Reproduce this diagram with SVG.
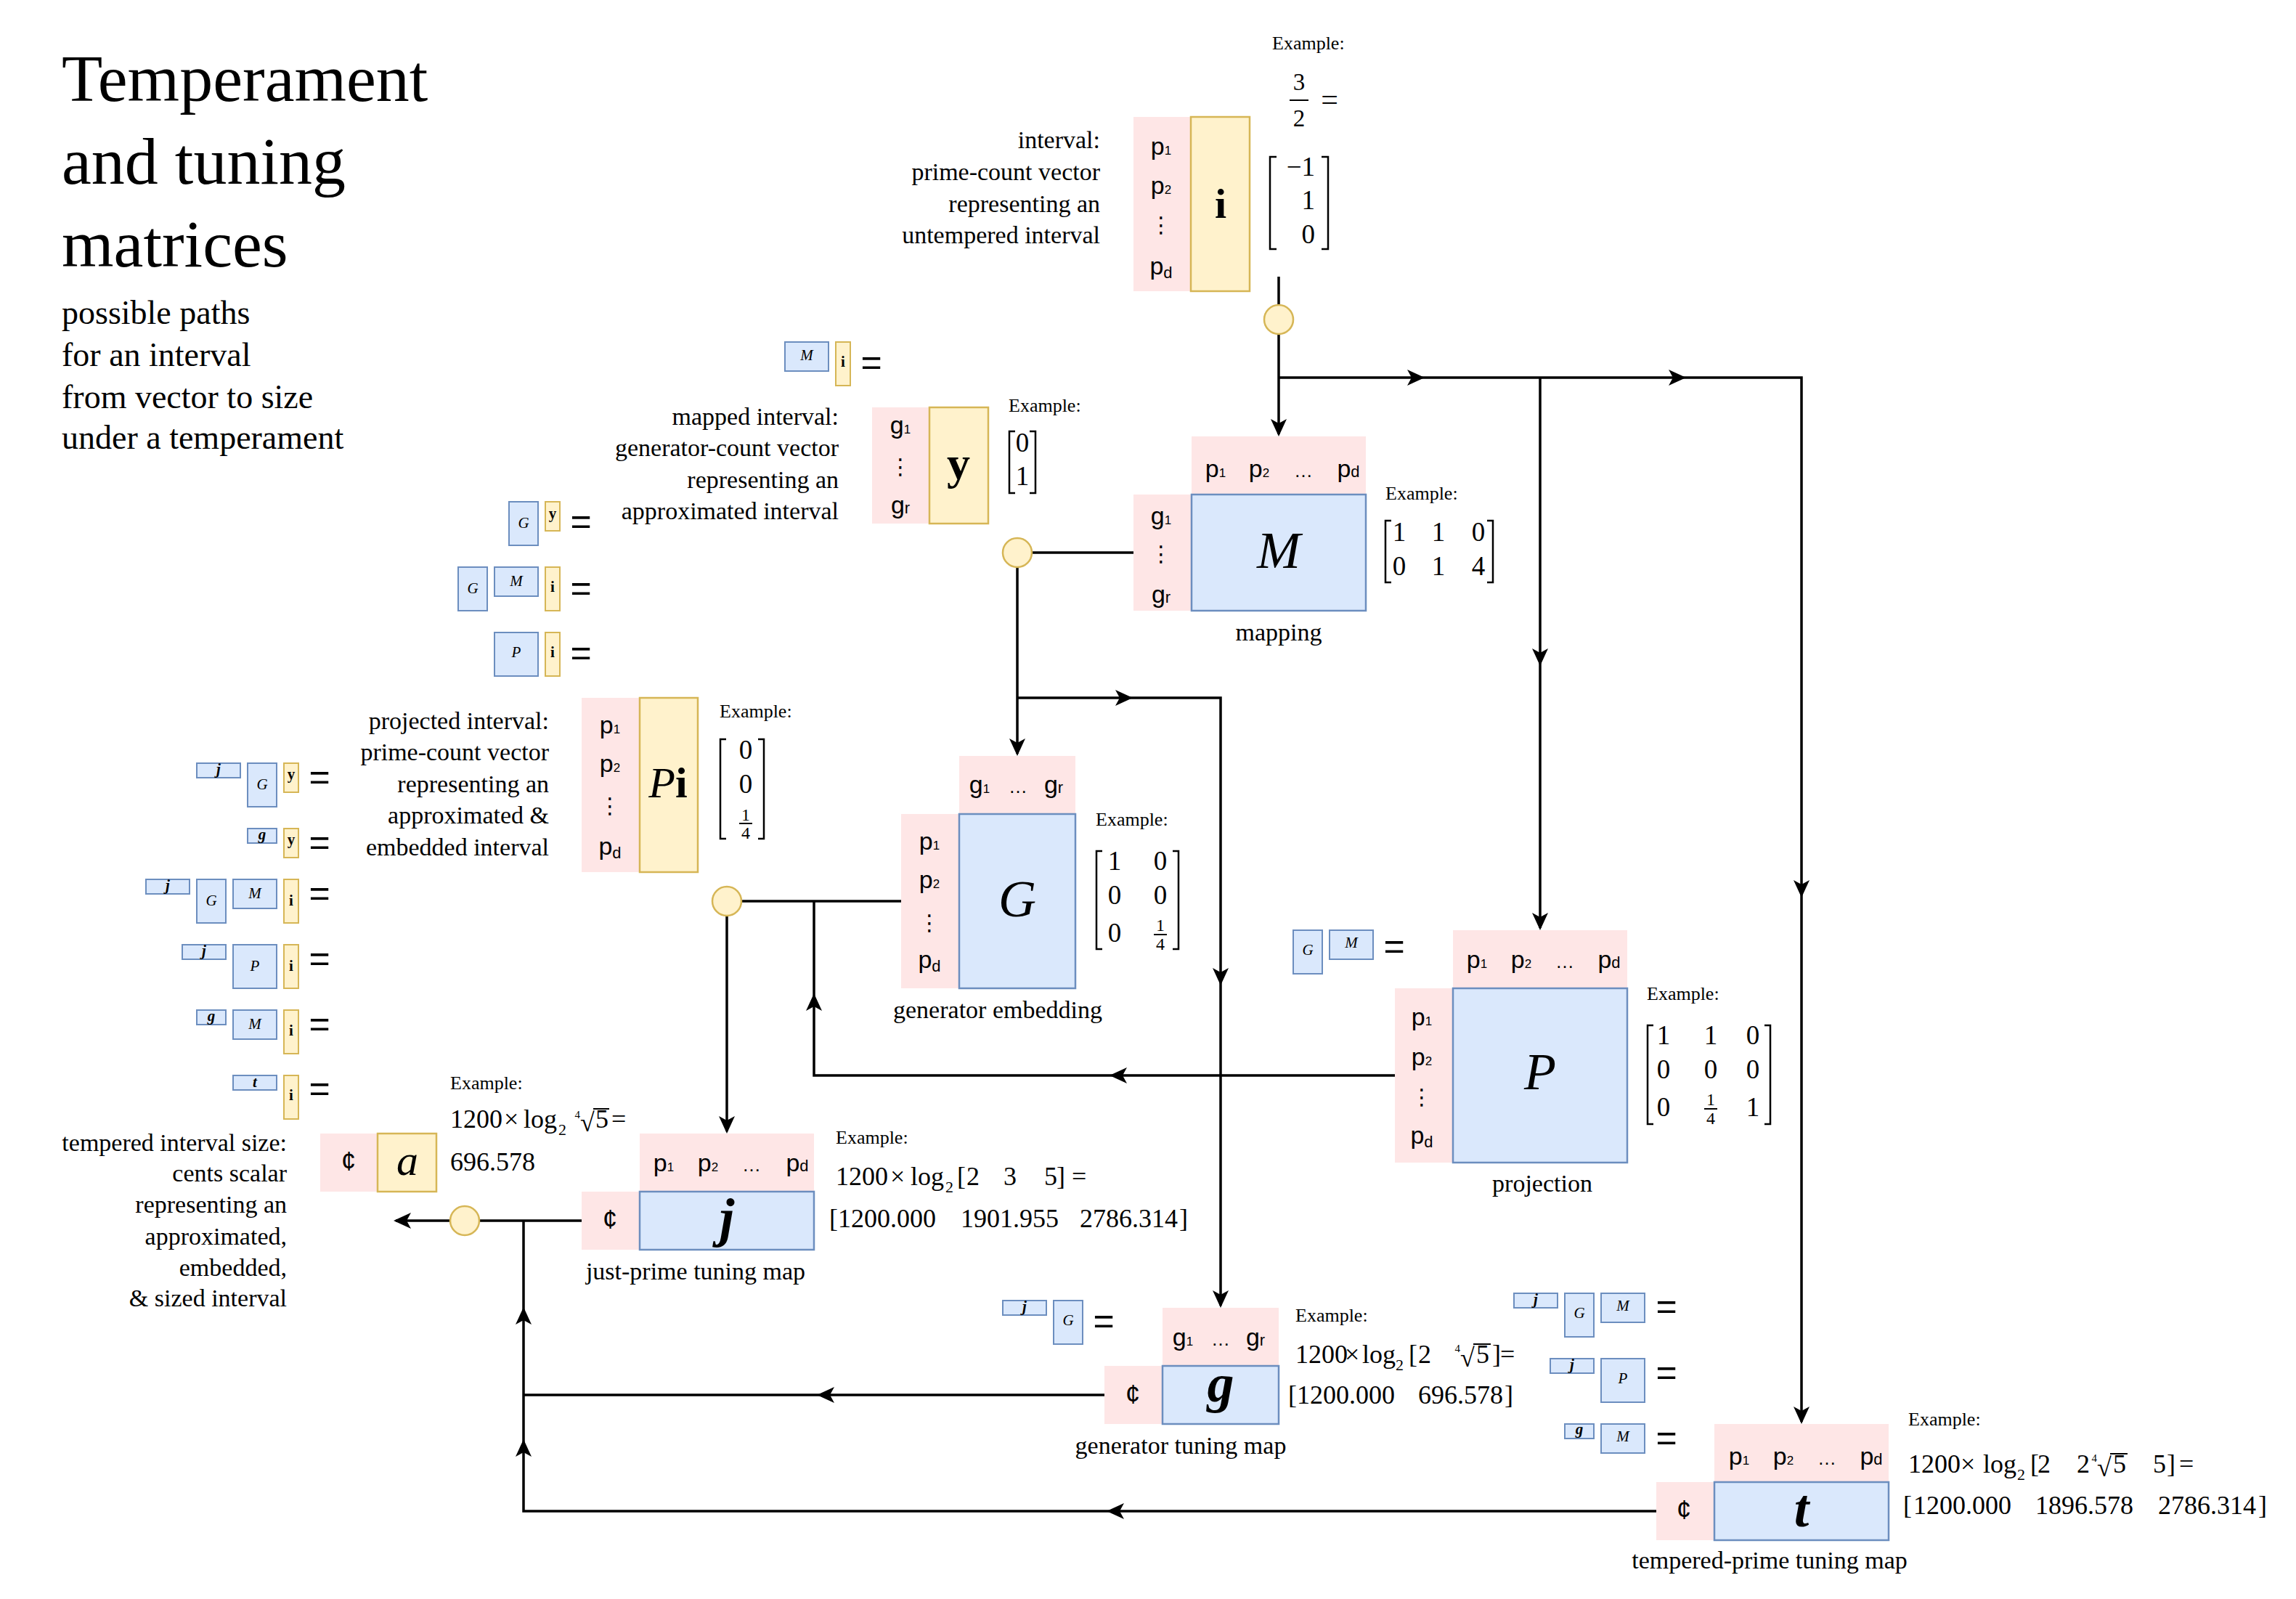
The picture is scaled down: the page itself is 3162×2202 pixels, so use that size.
<svg xmlns="http://www.w3.org/2000/svg" width="3162" height="2202" viewBox="0 0 3162 2202">
<defs>
<style>
text{font-family:"Liberation Serif",serif;fill:#000}
.title{font-size:92px}
.subt{font-size:46px}
.desc{font-size:34px;text-anchor:end}
.lbl{font-size:34px;text-anchor:middle}
.ex{font-size:26px}
.hd{font-family:"Liberation Sans",sans-serif;font-size:34px;text-anchor:middle}
.s{font-size:17px}
.sd{font-size:22px}
.vd{font-family:"DejaVu Sans",sans-serif;font-size:30px;text-anchor:middle}
.cent{font-family:"Liberation Sans",sans-serif;font-size:36px;text-anchor:middle}
.m{font-size:37px;text-anchor:middle}
.me{font-size:37px;text-anchor:end}
.fr{font-size:24px;text-anchor:middle}
.mx{font-size:36px}
.sub2{font-size:22px}
.idx{font-size:15px;text-anchor:end}
.big{font-size:72px;font-style:italic;text-anchor:middle}
.bigb{font-size:74px;font-style:italic;font-weight:bold;text-anchor:middle}
.bold{font-size:60px;font-weight:bold;text-anchor:middle}
.sm{font-size:21px;font-style:italic;text-anchor:middle}
.smb{font-size:21px;font-style:italic;font-weight:bold;text-anchor:middle}
.smi{font-size:21px;font-weight:bold;text-anchor:middle}
.eq{font-family:"Liberation Sans",sans-serif;font-size:50px;text-anchor:middle}
.pk{fill:#fee6e6}
.bl{fill:#dae8fc;stroke:#6c8ebf;stroke-width:2.5}
.yl{fill:#fff2cc;stroke:#d6b656;stroke-width:2.5}
.bs{fill:#dae8fc;stroke:#6c8ebf;stroke-width:2}
.ys{fill:#fff2cc;stroke:#d6b656;stroke-width:2}
.dot{fill:#fff2cc;stroke:#d6b656;stroke-width:2.5}
.ln{fill:none;stroke:#000;stroke-width:3.5}
.br{fill:none;stroke:#000;stroke-width:2.5}
.bar{stroke:#000;stroke-width:2}
</style>
<path id="ah" d="M0,0 L-24,-11 L-18,0 L-24,11 Z" fill="#000"/>
</defs>
<rect x="0" y="0" width="3162" height="2202" fill="#ffffff"/>

<g id="title">
<text class="title" x="85" y="139">Temperament</text>
<text class="title" x="85" y="253">and tuning</text>
<text class="title" x="85" y="367">matrices</text>
<text class="subt" x="85" y="446">possible paths</text>
<text class="subt" x="85" y="504">for an interval</text>
<text class="subt" x="85" y="562">from vector to size</text>
<text class="subt" x="85" y="618">under a temperament</text>
</g>

<g id="connectors">
<path class="ln" d="M1761,381 V420"/>
<path class="ln" d="M1761,460 V598"/>
<path class="ln" d="M1761,520 H2481 V1958"/>
<path class="ln" d="M2121,520 V1278"/>
<path class="ln" d="M1561,761 H1421"/>
<path class="ln" d="M1401,781 V1038"/>
<path class="ln" d="M1401,961 H1681 V1798"/>
<path class="ln" d="M1241,1241 H1021"/>
<path class="ln" d="M1001,1261 V1558"/>
<path class="ln" d="M1921,1481 H1121 V1241"/>
<path class="ln" d="M801,1681 H660"/>
<path class="ln" d="M620,1681 H545"/>
<path class="ln" d="M1521,1921 H721"/>
<path class="ln" d="M2281,2081 H721 V1681"/>
<use href="#ah" transform="translate(1761,601) rotate(90)"/>
<use href="#ah" transform="translate(1962,520)"/>
<use href="#ah" transform="translate(2322,520)"/>
<use href="#ah" transform="translate(2121,917) rotate(90)"/>
<use href="#ah" transform="translate(2121,1281) rotate(90)"/>
<use href="#ah" transform="translate(2481,1236) rotate(90)"/>
<use href="#ah" transform="translate(2481,1961) rotate(90)"/>
<use href="#ah" transform="translate(1401,1041) rotate(90)"/>
<use href="#ah" transform="translate(1560,961)"/>
<use href="#ah" transform="translate(1681,1357) rotate(90)"/>
<use href="#ah" transform="translate(1681,1801) rotate(90)"/>
<use href="#ah" transform="translate(1001,1561) rotate(90)"/>
<use href="#ah" transform="translate(1121,1368) rotate(-90)"/>
<use href="#ah" transform="translate(1528,1481) rotate(180)"/>
<use href="#ah" transform="translate(542,1681) rotate(180)"/>
<use href="#ah" transform="translate(1125,1921) rotate(180)"/>
<use href="#ah" transform="translate(1524,2081) rotate(180)"/>
<use href="#ah" transform="translate(721,1982) rotate(-90)"/>
<use href="#ah" transform="translate(721,1800) rotate(-90)"/>
<circle class="dot" cx="1761" cy="440" r="20"/>
<circle class="dot" cx="1401" cy="761" r="20"/>
<circle class="dot" cx="1001" cy="1241" r="20"/>
<circle class="dot" cx="640" cy="1681" r="20"/>
</g>

<g id="node-i">
<rect class="pk" x="1561" y="161" width="79" height="240"/>
<rect class="yl" x="1640" y="161" width="81" height="240"/>
<text class="bold" x="1681" y="300" style="font-size:58px">i</text>
<text class="hd" x="1599" y="213">p<tspan class="s">1</tspan></text>
<text class="hd" x="1599" y="267">p<tspan class="s">2</tspan></text>
<text class="vd" x="1599" y="320">⋮</text>
<text class="hd" x="1599" y="378">p<tspan class="sd" dy="5">d</tspan></text>
<text class="desc" x="1515" y="204">interval:</text>
<text class="desc" x="1515" y="248">prime-count vector</text>
<text class="desc" x="1515" y="292">representing an</text>
<text class="desc" x="1515" y="335">untempered interval</text>
<text class="ex" x="1752" y="68">Example:</text>
<text style="font-size:33px;text-anchor:middle" x="1789" y="124">3</text>
<line class="bar" x1="1776" y1="138" x2="1802" y2="138"/>
<text style="font-size:33px;text-anchor:middle" x="1789" y="174">2</text>
<text style="font-size:42px;text-anchor:middle" x="1831" y="151">=</text>
<path class="br" d="M1758,216 H1749 V343 H1758"/>
<path class="br" d="M1820,216 H1829 V343 H1820"/>
<text class="me" x="1811" y="242">−1</text>
<text class="me" x="1811" y="288">1</text>
<text class="me" x="1811" y="335">0</text>
</g>

<g id="node-M">
<rect class="pk" x="1641" y="601" width="240" height="80"/>
<rect class="pk" x="1561" y="681" width="80" height="160"/>
<rect class="bl" x="1641" y="681" width="240" height="160"/>
<text class="big" x="1761" y="782">M</text>
<text class="hd" x="1674" y="657">p<tspan class="s">1</tspan></text>
<text class="hd" x="1734" y="657">p<tspan class="s">2</tspan></text>
<text class="hd" x="1795" y="657" style="font-size:26px">…</text>
<text class="hd" x="1857" y="657">p<tspan class="sd">d</tspan></text>
<text class="hd" x="1599" y="722">g<tspan class="s">1</tspan></text>
<text class="vd" x="1599" y="773">⋮</text>
<text class="hd" x="1599" y="830">g<tspan class="sd">r</tspan></text>
<text class="ex" x="1908" y="688">Example:</text>
<path class="br" d="M1916,717 H1908 V802 H1916"/>
<path class="br" d="M2048,717 H2056 V802 H2048"/>
<text class="m" x="1927" y="745">1</text>
<text class="m" x="1981" y="745">1</text>
<text class="m" x="2036" y="745">0</text>
<text class="m" x="1927" y="792">0</text>
<text class="m" x="1981" y="792">1</text>
<text class="m" x="2036" y="792">4</text>
<text class="lbl" x="1761" y="882">mapping</text>
</g>

<g id="node-y">
<rect class="pk" x="1201" y="561" width="79" height="160"/>
<rect class="yl" x="1280" y="561" width="81" height="160"/>
<text class="bold" x="1320" y="659" style="font-size:64px">y</text>
<text class="hd" x="1240" y="597">g<tspan class="s">1</tspan></text>
<text class="vd" x="1240" y="653">⋮</text>
<text class="hd" x="1240" y="707">g<tspan class="sd">r</tspan></text>
<text class="desc" x="1155" y="585">mapped interval:</text>
<text class="desc" x="1155" y="628">generator-count vector</text>
<text class="desc" x="1155" y="672">representing an</text>
<text class="desc" x="1155" y="715">approximated interval</text>
<text class="ex" x="1389" y="567">Example:</text>
<path class="br" d="M1398,594 H1390 V679 H1398"/>
<path class="br" d="M1418,594 H1426 V679 H1418"/>
<text class="m" x="1408" y="622">0</text>
<text class="m" x="1408" y="668">1</text>
</g>

<g id="node-G">
<rect class="pk" x="1321" y="1041" width="160" height="80"/>
<rect class="pk" x="1241" y="1121" width="80" height="240"/>
<rect class="bl" x="1321" y="1121" width="160" height="240"/>
<text class="big" x="1401" y="1262">G</text>
<text class="hd" x="1349" y="1092">g<tspan class="s">1</tspan></text>
<text class="hd" x="1402" y="1092" style="font-size:26px">…</text>
<text class="hd" x="1451" y="1092">g<tspan class="sd">r</tspan></text>
<text class="hd" x="1280" y="1170">p<tspan class="s">1</tspan></text>
<text class="hd" x="1280" y="1223">p<tspan class="s">2</tspan></text>
<text class="vd" x="1280" y="1281">⋮</text>
<text class="hd" x="1280" y="1333">p<tspan class="sd" dy="5">d</tspan></text>
<text class="ex" x="1509" y="1137">Example:</text>
<path class="br" d="M1518,1172 H1510 V1307 H1518"/>
<path class="br" d="M1615,1172 H1623 V1307 H1615"/>
<text class="m" x="1535" y="1198">1</text>
<text class="m" x="1598" y="1198">0</text>
<text class="m" x="1535" y="1245">0</text>
<text class="m" x="1598" y="1245">0</text>
<text class="m" x="1535" y="1297">0</text>
<text class="fr" x="1598" y="1282">1</text>
<line class="bar" x1="1589" y1="1287" x2="1607" y2="1287"/>
<text class="fr" x="1598" y="1308">4</text>
<text class="lbl" x="1374" y="1402">generator embedding</text>
</g>

<g id="node-Pi">
<rect class="pk" x="801" y="961" width="80" height="240"/>
<rect class="yl" x="881" y="961" width="80" height="240"/>
<text x="920" y="1098" style="font-size:60px;text-anchor:middle"><tspan font-style="italic">P</tspan><tspan font-weight="bold">i</tspan></text>
<text class="hd" x="840" y="1010">p<tspan class="s">1</tspan></text>
<text class="hd" x="840" y="1063">p<tspan class="s">2</tspan></text>
<text class="vd" x="840" y="1120">⋮</text>
<text class="hd" x="840" y="1177">p<tspan class="sd" dy="5">d</tspan></text>
<text class="desc" x="756" y="1004">projected interval:</text>
<text class="desc" x="756" y="1047">prime-count vector</text>
<text class="desc" x="756" y="1091">representing an</text>
<text class="desc" x="756" y="1134">approximated &amp;</text>
<text class="desc" x="756" y="1178">embedded interval</text>
<text class="ex" x="991" y="988">Example:</text>
<path class="br" d="M1000,1018 H992 V1155 H1000"/>
<path class="br" d="M1044,1018 H1052 V1155 H1044"/>
<text class="m" x="1027" y="1045">0</text>
<text class="m" x="1027" y="1092">0</text>
<text class="fr" x="1027" y="1130">1</text>
<line class="bar" x1="1018" y1="1134" x2="1036" y2="1134"/>
<text class="fr" x="1027" y="1155">4</text>
</g>

<g id="node-P">
<rect class="pk" x="2001" y="1281" width="240" height="80"/>
<rect class="pk" x="1921" y="1361" width="80" height="240"/>
<rect class="bl" x="2001" y="1361" width="240" height="240"/>
<text class="big" x="2121" y="1500">P</text>
<text class="hd" x="2034" y="1333">p<tspan class="s">1</tspan></text>
<text class="hd" x="2095" y="1333">p<tspan class="s">2</tspan></text>
<text class="hd" x="2155" y="1333" style="font-size:26px">…</text>
<text class="hd" x="2216" y="1333">p<tspan class="sd">d</tspan></text>
<text class="hd" x="1958" y="1412">p<tspan class="s">1</tspan></text>
<text class="hd" x="1958" y="1467">p<tspan class="s">2</tspan></text>
<text class="vd" x="1958" y="1521">⋮</text>
<text class="hd" x="1958" y="1575">p<tspan class="sd" dy="5">d</tspan></text>
<text class="ex" x="2268" y="1377">Example:</text>
<path class="br" d="M2277,1412 H2269 V1548 H2277"/>
<path class="br" d="M2430,1412 H2438 V1548 H2430"/>
<text class="m" x="2291" y="1438">1</text>
<text class="m" x="2356" y="1438">1</text>
<text class="m" x="2414" y="1438">0</text>
<text class="m" x="2291" y="1485">0</text>
<text class="m" x="2356" y="1485">0</text>
<text class="m" x="2414" y="1485">0</text>
<text class="m" x="2291" y="1537">0</text>
<text class="fr" x="2356" y="1522">1</text>
<line class="bar" x1="2347" y1="1527" x2="2365" y2="1527"/>
<text class="fr" x="2356" y="1548">4</text>
<text class="m" x="2414" y="1537">1</text>
<text class="lbl" x="2124" y="1641">projection</text>
</g>

<g id="node-a">
<rect class="pk" x="441" y="1561" width="79" height="80"/>
<rect class="yl" x="520" y="1561" width="81" height="80"/>
<text class="cent" x="480" y="1612">¢</text>
<text class="big" x="561" y="1618" style="font-size:60px">a</text>
<text class="desc" x="395" y="1585">tempered interval size:</text>
<text class="desc" x="395" y="1627">cents scalar</text>
<text class="desc" x="395" y="1670">representing an</text>
<text class="desc" x="395" y="1714">approximated,</text>
<text class="desc" x="395" y="1757">embedded,</text>
<text class="desc" x="395" y="1799">&amp; sized interval</text>
<text class="ex" x="620" y="1500">Example:</text>
<text class="mx" x="620" y="1553">1200</text>
<text class="mx" x="694" y="1553">×</text>
<text class="mx" x="721" y="1553">log</text>
<text class="sub2" x="769" y="1563">2</text>
<text class="idx" x="799" y="1540">4</text>
<text class="mx" x="799" y="1558">√</text>
<line class="bar" x1="817" y1="1527" x2="839" y2="1527"/>
<text class="mx" x="820" y="1553">5</text>
<text class="mx" x="842" y="1553">=</text>
<text class="mx" x="620" y="1612">696.578</text>
</g>

<g id="node-j">
<rect class="pk" x="881" y="1561" width="240" height="80"/>
<rect class="pk" x="801" y="1641" width="80" height="80"/>
<rect class="bl" x="881" y="1641" width="240" height="80"/>
<text class="cent" x="840" y="1692">¢</text>
<text class="bigb" x="1001" y="1702">j</text>
<text class="hd" x="914" y="1613">p<tspan class="s">1</tspan></text>
<text class="hd" x="975" y="1613">p<tspan class="s">2</tspan></text>
<text class="hd" x="1035" y="1613" style="font-size:26px">…</text>
<text class="hd" x="1098" y="1613">p<tspan class="sd">d</tspan></text>
<text class="ex" x="1151" y="1575">Example:</text>
<text class="mx" x="1151" y="1632">1200</text>
<text class="mx" x="1226" y="1632">×</text>
<text class="mx" x="1254" y="1632">log</text>
<text class="sub2" x="1302" y="1642">2</text>
<text class="mx" x="1318" y="1632">[</text>
<text class="mx" x="1331" y="1632">2</text>
<text class="mx" x="1382" y="1632">3</text>
<text class="mx" x="1438" y="1632">5</text>
<text class="mx" x="1455" y="1632">]</text>
<text class="mx" x="1476" y="1632">=</text>
<text class="mx" x="1142" y="1690">[</text>
<text class="mx" x="1154" y="1690">1200.000</text>
<text class="mx" x="1323" y="1690">1901.955</text>
<text class="mx" x="1487" y="1690">2786.314</text>
<text class="mx" x="1624" y="1690">]</text>
<text class="lbl" x="958" y="1762">just-prime tuning map</text>
</g>

<g id="node-g">
<rect class="pk" x="1601" y="1801" width="160" height="80"/>
<rect class="pk" x="1521" y="1881" width="80" height="80"/>
<rect class="bl" x="1601" y="1881" width="160" height="80"/>
<text class="cent" x="1560" y="1933">¢</text>
<text class="bigb" x="1681" y="1930">g</text>
<text class="hd" x="1629" y="1853">g<tspan class="s">1</tspan></text>
<text class="hd" x="1681" y="1853" style="font-size:26px">…</text>
<text class="hd" x="1729" y="1853">g<tspan class="sd">r</tspan></text>
<text class="ex" x="1784" y="1820">Example:</text>
<text class="mx" x="1784" y="1877">1200</text>
<text class="mx" x="1852" y="1877">×</text>
<text class="mx" x="1876" y="1877">log</text>
<text class="sub2" x="1922" y="1887">2</text>
<text class="mx" x="1940" y="1877">[</text>
<text class="mx" x="1953" y="1877">2</text>
<text class="idx" x="2011" y="1862">4</text>
<text class="mx" x="2011" y="1882">√</text>
<line class="bar" x1="2029" y1="1851" x2="2053" y2="1851"/>
<text class="mx" x="2033" y="1877">5</text>
<text class="mx" x="2055" y="1877">]</text>
<text class="mx" x="2066" y="1877">=</text>
<text class="mx" x="1774" y="1933">[</text>
<text class="mx" x="1786" y="1933">1200.000</text>
<text class="mx" x="1953" y="1933">696.578</text>
<text class="mx" x="2072" y="1933">]</text>
<text class="lbl" x="1626" y="2002">generator tuning map</text>
</g>

<g id="node-t">
<rect class="pk" x="2361" y="1961" width="240" height="80"/>
<rect class="pk" x="2281" y="2041" width="80" height="80"/>
<rect class="bl" x="2361" y="2041" width="240" height="80"/>
<text class="cent" x="2319" y="2092">¢</text>
<text class="bigb" x="2481" y="2102">t</text>
<text class="hd" x="2395" y="2017">p<tspan class="s">1</tspan></text>
<text class="hd" x="2456" y="2017">p<tspan class="s">2</tspan></text>
<text class="hd" x="2516" y="2017" style="font-size:26px">…</text>
<text class="hd" x="2577" y="2017">p<tspan class="sd">d</tspan></text>
<text class="ex" x="2628" y="1963">Example:</text>
<text class="mx" x="2628" y="2028">1200</text>
<text class="mx" x="2700" y="2028">×</text>
<text class="mx" x="2731" y="2028">log</text>
<text class="sub2" x="2778" y="2038">2</text>
<text class="mx" x="2796" y="2028">[</text>
<text class="mx" x="2806" y="2028">2</text>
<text class="mx" x="2860" y="2028">2</text>
<text class="idx" x="2888" y="2013">4</text>
<text class="mx" x="2888" y="2033">√</text>
<line class="bar" x1="2906" y1="2002" x2="2930" y2="2002"/>
<text class="mx" x="2910" y="2028">5</text>
<text class="mx" x="2965" y="2028">5</text>
<text class="mx" x="2984" y="2028">]</text>
<text class="mx" x="3001" y="2028">=</text>
<text class="mx" x="2621" y="2085">[</text>
<text class="mx" x="2635" y="2085">1200.000</text>
<text class="mx" x="2803" y="2085">1896.578</text>
<text class="mx" x="2972" y="2085">2786.314</text>
<text class="mx" x="3110" y="2085">]</text>
<text class="lbl" x="2437" y="2160">tempered-prime tuning map</text>
</g>

<g id="f-Mi">
<rect class="bs" x="1081" y="471" width="60" height="40"/>
<rect class="ys" x="1151" y="471" width="20" height="60"/>
<text class="sm" x="1111" y="496">M</text>
<text class="smi" x="1161" y="505">i</text>
<text class="eq" x="1200" y="516">=</text>
</g>
<g id="f-Gy">
<rect class="bs" x="701" y="691" width="40" height="60"/>
<rect class="ys" x="751" y="691" width="20" height="40"/>
<text class="sm" x="721" y="727">G</text>
<text class="smi" x="761" y="714">y</text>
<text class="eq" x="800" y="735">=</text>
</g>
<g id="f-GMi">
<rect class="bs" x="631" y="781" width="40" height="60"/>
<rect class="bs" x="681" y="781" width="60" height="40"/>
<rect class="ys" x="751" y="781" width="20" height="60"/>
<text class="sm" x="651" y="817">G</text>
<text class="sm" x="711" y="807">M</text>
<text class="smi" x="761" y="815">i</text>
<text class="eq" x="800" y="827">=</text>
</g>
<g id="f-Pi">
<rect class="bs" x="681" y="871" width="60" height="60"/>
<rect class="ys" x="751" y="871" width="20" height="60"/>
<text class="sm" x="711" y="905">P</text>
<text class="smi" x="761" y="905">i</text>
<text class="eq" x="800" y="916">=</text>
</g>
<g id="f-jGy">
<rect class="bs" x="271" y="1051" width="60" height="20"/>
<rect class="bs" x="341" y="1051" width="40" height="60"/>
<rect class="ys" x="391" y="1051" width="20" height="40"/>
<text class="smb" x="301" y="1066">j</text>
<text class="sm" x="361" y="1087">G</text>
<text class="smi" x="401" y="1073">y</text>
<text class="eq" x="440" y="1087">=</text>
</g>
<g id="f-gy">
<rect class="bs" x="341" y="1141" width="40" height="20"/>
<rect class="ys" x="391" y="1141" width="20" height="40"/>
<text class="smb" x="361" y="1156">g</text>
<text class="smi" x="401" y="1163">y</text>
<text class="eq" x="440" y="1177">=</text>
</g>
<g id="f-jGMi">
<rect class="bs" x="201" y="1211" width="60" height="20"/>
<rect class="bs" x="271" y="1211" width="40" height="60"/>
<rect class="bs" x="321" y="1211" width="60" height="40"/>
<rect class="ys" x="391" y="1211" width="20" height="60"/>
<text class="smb" x="231" y="1226">j</text>
<text class="sm" x="291" y="1247">G</text>
<text class="sm" x="351" y="1237">M</text>
<text class="smi" x="401" y="1247">i</text>
<text class="eq" x="440" y="1247">=</text>
</g>
<g id="f-jPi">
<rect class="bs" x="251" y="1301" width="60" height="20"/>
<rect class="bs" x="321" y="1301" width="60" height="60"/>
<rect class="ys" x="391" y="1301" width="20" height="60"/>
<text class="smb" x="281" y="1316">j</text>
<text class="sm" x="351" y="1337">P</text>
<text class="smi" x="401" y="1337">i</text>
<text class="eq" x="440" y="1337">=</text>
</g>
<g id="f-gMi">
<rect class="bs" x="271" y="1391" width="40" height="20"/>
<rect class="bs" x="321" y="1391" width="60" height="40"/>
<rect class="ys" x="391" y="1391" width="20" height="60"/>
<text class="smb" x="291" y="1406">g</text>
<text class="sm" x="351" y="1417">M</text>
<text class="smi" x="401" y="1426">i</text>
<text class="eq" x="440" y="1427">=</text>
</g>
<g id="f-ti">
<rect class="bs" x="321" y="1481" width="60" height="20"/>
<rect class="ys" x="391" y="1481" width="20" height="60"/>
<text class="smb" x="351" y="1497">t</text>
<text class="smi" x="401" y="1515">i</text>
<text class="eq" x="440" y="1516">=</text>
</g>
<g id="f-GM">
<rect class="bs" x="1781" y="1281" width="40" height="60"/>
<rect class="bs" x="1831" y="1281" width="60" height="40"/>
<text class="sm" x="1801" y="1315">G</text>
<text class="sm" x="1861" y="1305">M</text>
<text class="eq" x="1920" y="1320">=</text>
</g>
<g id="f-jG">
<rect class="bs" x="1381" y="1791" width="60" height="20"/>
<rect class="bs" x="1451" y="1791" width="40" height="60"/>
<text class="smb" x="1411" y="1806">j</text>
<text class="sm" x="1471" y="1825">G</text>
<text class="eq" x="1520" y="1836">=</text>
</g>
<g id="f-jGM">
<rect class="bs" x="2085" y="1781" width="60" height="20"/>
<rect class="bs" x="2155" y="1781" width="40" height="60"/>
<rect class="bs" x="2205" y="1781" width="60" height="40"/>
<text class="smb" x="2115" y="1796">j</text>
<text class="sm" x="2175" y="1815">G</text>
<text class="sm" x="2235" y="1805">M</text>
<text class="eq" x="2295" y="1816">=</text>
</g>
<g id="f-jP">
<rect class="bs" x="2135" y="1871" width="60" height="20"/>
<rect class="bs" x="2205" y="1871" width="60" height="60"/>
<text class="smb" x="2165" y="1886">j</text>
<text class="sm" x="2235" y="1905">P</text>
<text class="eq" x="2295" y="1907">=</text>
</g>
<g id="f-gM">
<rect class="bs" x="2155" y="1961" width="40" height="20"/>
<rect class="bs" x="2205" y="1961" width="60" height="40"/>
<text class="smb" x="2175" y="1975">g</text>
<text class="sm" x="2235" y="1985">M</text>
<text class="eq" x="2295" y="1997">=</text>
</g>
</svg>
